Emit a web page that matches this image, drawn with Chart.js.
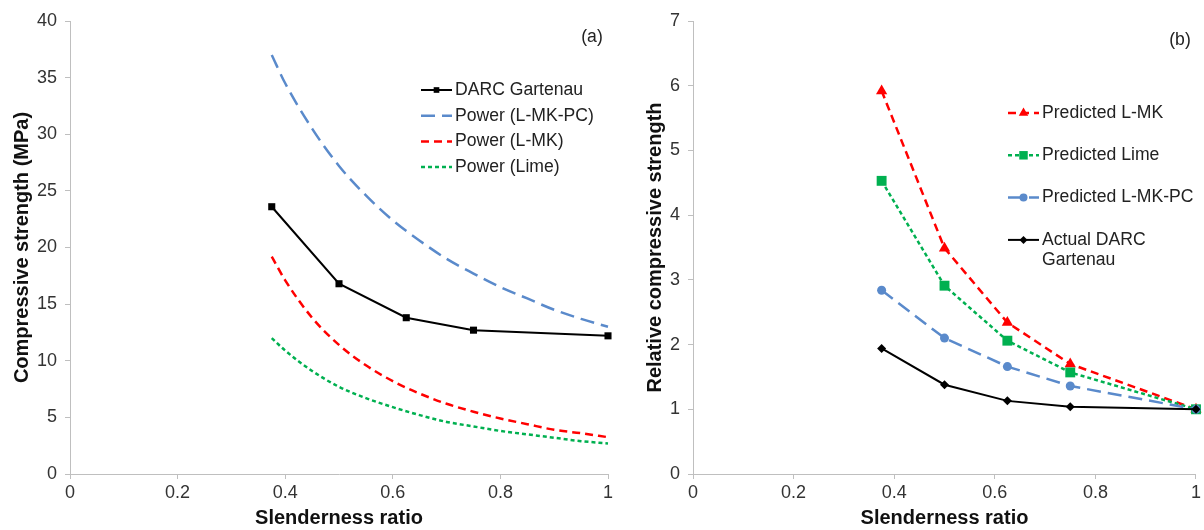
<!DOCTYPE html>
<html>
<head>
<meta charset="utf-8">
<title>Slenderness ratio vs compressive strength</title>
<script src="https://cdn.jsdelivr.net/npm/chart.js@4.4.1/dist/chart.umd.min.js"></script>
<style>
  html, body { margin: 0; padding: 0; background: #fff; }
  #wrap { position: relative; width: 1204px; height: 530px; overflow: hidden; }
  canvas { position: absolute; top: 0; }
  #panelA { left: 0; }
  #panelB { left: 620px; }
</style>
</head>
<body>
<div id="wrap">
  <canvas id="panelA" width="620" height="530"></canvas>
  <canvas id="panelB" width="584" height="530"></canvas>
</div>
<script>
// slenderness ratios of the tested specimens
const slenderness = [0.375, 0.5, 0.625, 0.75, 1.0];

// (a) measured strength, MPa
const darcStrength = [23.6, 16.8, 13.8, 12.7, 12.2];

// (a) power trend lines
const trendRatio = [0.375, 0.4, 0.45, 0.5, 0.55, 0.6, 0.65, 0.7, 0.75, 0.8, 0.85, 0.9, 0.95, 1.0];
const powerLMKPC = [37.0, 34.5, 30.5, 27.2, 24.6, 22.4, 20.6, 19.0, 17.7, 16.5, 15.5, 14.5, 13.7, 13.0];
const powerLMK   = [19.2, 17.1, 13.8, 11.4, 9.6, 8.2, 7.1, 6.2, 5.5, 4.9, 4.4, 3.9, 3.6, 3.25];
const powerLime  = [12.0, 10.9, 9.1, 7.7, 6.7, 5.9, 5.2, 4.6, 4.2, 3.8, 3.5, 3.2, 2.9, 2.7];

// (b) strength relative to slenderness 1
const predLMK    = [5.92, 3.49, 2.34, 1.70, 1.0];
const predLime   = [4.53, 2.91, 2.06, 1.57, 1.0];
const predLMKPC  = [2.84, 2.10, 1.66, 1.36, 1.0];
const actualDARC = [1.94, 1.38, 1.13, 1.04, 1.0];

// tick labels
const ratioTicks = [0, 0.2, 0.4, 0.6, 0.8, 1];
const strengthTicks = [0, 5, 10, 15, 20, 25, 30, 35, 40];
const relativeTicks = [0, 1, 2, 3, 4, 5, 6, 7];

const FONT = '"Liberation Sans", Arial, sans-serif';
const AXIS_GREY = '#bfbfbf';
const BLUE = '#5a8acb';
const RED = '#ff0000';
const GREEN = '#00b050';

function pairs(xs, ys) {
    return xs.map((x, i) => ({ x: x, y: ys[i] }));
}

// legend drawn inside the plot area, plus the panel tag
const panelLegend = {
    id: 'panelLegend',
    afterDraw(chart, args, opts) {
        const ctx = chart.ctx;
        ctx.save();
        ctx.font = opts.fontSize + 'px ' + FONT;
        ctx.textBaseline = 'middle';
        let y = opts.y;
        chart.data.datasets.forEach(ds => {
            // line sample
            ctx.strokeStyle = ds.borderColor;
            ctx.lineWidth = ds.borderWidth;
            ctx.setLineDash(ds.borderDash || []);
            ctx.beginPath();
            ctx.moveTo(opts.x, y);
            ctx.lineTo(opts.x + opts.sampleWidth, y);
            ctx.stroke();
            ctx.setLineDash([]);
            if (ds.pointRadius > 0) {
                ctx.fillStyle = ds.pointBackgroundColor;
                ctx.strokeStyle = ds.pointBorderColor;
                Chart.helpers.drawPoint(ctx, {
                    pointStyle: ds.pointStyle,
                    radius: ds.legendRadius || ds.pointRadius,
                    rotation: 0,
                    borderWidth: 0
                }, opts.x + opts.sampleWidth / 2, y);
            }
            // label, wrapped to the box width
            const words = ds.label.split(' ');
            const lines = [];
            let cur = '';
            words.forEach(w => {
                const test = cur ? cur + ' ' + w : w;
                if (cur && ctx.measureText(test).width > opts.maxWidth) {
                    lines.push(cur);
                    cur = w;
                } else {
                    cur = test;
                }
            });
            lines.push(cur);
            ctx.fillStyle = '#222';
            lines.forEach((line, i) => {
                ctx.fillText(line, opts.x + opts.sampleWidth + opts.textGap, y + i * opts.lineGap);
            });
            y += opts.rowGap;
        });
        if (opts.tag) {
            ctx.textAlign = 'center';
            ctx.fillStyle = '#222';
            ctx.fillText(opts.tag.text, opts.tag.x, opts.tag.y);
        }
        ctx.restore();
    }
};

function axes(yTicks, yMax, yTitle, yWidth, yTitlePad) {
    return {
        x: {
            type: 'linear',
            min: 0,
            max: 1,
            afterBuildTicks: s => { s.ticks = ratioTicks.map(v => ({ value: v })); },
            afterFit: s => { s.height = 56; },
            border: { color: AXIS_GREY, width: 1 },
            grid: { drawOnChartArea: false, drawTicks: true, tickLength: 5, color: AXIS_GREY },
            ticks: {
                color: '#333',
                padding: 3,
                font: { family: FONT, size: 18 },
                callback: v => String(v)
            },
            title: {
                display: true,
                text: 'Slenderness ratio',
                color: '#111',
                padding: { top: 0, bottom: 0 },
                font: { family: FONT, size: 20, weight: 'bold' }
            }
        },
        y: {
            type: 'linear',
            min: 0,
            max: yMax,
            afterBuildTicks: s => { s.ticks = yTicks.map(v => ({ value: v })); },
            afterFit: s => { s.width = yWidth; },
            border: { color: AXIS_GREY, width: 1 },
            grid: { drawOnChartArea: false, drawTicks: true, tickLength: 5, color: AXIS_GREY },
            ticks: {
                color: '#333',
                padding: 8,
                font: { family: FONT, size: 18 },
                callback: v => String(v)
            },
            title: {
                display: true,
                text: yTitle,
                color: '#111',
                padding: { top: yTitlePad, bottom: 0 },
                font: { family: FONT, size: 20, weight: 'bold' }
            }
        }
    };
}

const baseOptions = {
    responsive: false,
    animation: false,
    devicePixelRatio: 1,
    events: []
};

// (a) compressive strength
new Chart(document.getElementById('panelA'), {
    type: 'scatter',
    data: {
        datasets: [
            {
                label: 'DARC Gartenau',
                data: pairs(slenderness, darcStrength),
                showLine: true,
                borderColor: '#000',
                borderWidth: 2,
                pointStyle: 'rect',
                pointRadius: 5,
                legendRadius: 4,
                pointBackgroundColor: '#000',
                pointBorderColor: '#000',
                pointBorderWidth: 0,
                clip: false,
                order: 0
            },
            {
                label: 'Power (L-MK-PC)',
                data: pairs(trendRatio, powerLMKPC),
                showLine: true,
                borderColor: BLUE,
                borderWidth: 2.5,
                borderDash: [14, 7],
                pointRadius: 0,
                cubicInterpolationMode: 'monotone',
                clip: false,
                order: 1
            },
            {
                label: 'Power (L-MK)',
                data: pairs(trendRatio, powerLMK),
                showLine: true,
                borderColor: RED,
                borderWidth: 2.5,
                borderDash: [8, 5],
                pointRadius: 0,
                cubicInterpolationMode: 'monotone',
                clip: false,
                order: 2
            },
            {
                label: 'Power (Lime)',
                data: pairs(trendRatio, powerLime),
                showLine: true,
                borderColor: GREEN,
                borderWidth: 2.5,
                borderDash: [4, 3],
                pointRadius: 0,
                cubicInterpolationMode: 'monotone',
                clip: false,
                order: 3
            }
        ]
    },
    options: Object.assign({}, baseOptions, {
        layout: { padding: { left: 0, top: 21, right: 12, bottom: 0 } },
        scales: axes(strengthTicks, 40, 'Compressive strength (MPa)', 70, 10),
        plugins: {
            legend: { display: false },
            tooltip: { enabled: false },
            panelLegend: {
                x: 421, y: 90, sampleWidth: 31, textGap: 3,
                rowGap: 25.7, lineGap: 20, maxWidth: 170, fontSize: 17.6,
                tag: { text: '(a)', x: 592, y: 37 }
            }
        }
    }),
    plugins: [panelLegend]
});

// (b) relative compressive strength
new Chart(document.getElementById('panelB'), {
    type: 'scatter',
    data: {
        datasets: [
            {
                label: 'Predicted L-MK',
                data: pairs(slenderness, predLMK),
                showLine: true,
                borderColor: RED,
                borderWidth: 2.5,
                borderDash: [8, 5],
                pointStyle: 'triangle',
                pointRadius: 6.5,
                legendRadius: 5.5,
                pointBackgroundColor: RED,
                pointBorderColor: RED,
                pointBorderWidth: 0,
                clip: false,
                order: 3
            },
            {
                label: 'Predicted Lime',
                data: pairs(slenderness, predLime),
                showLine: true,
                borderColor: GREEN,
                borderWidth: 2.5,
                borderDash: [4, 3],
                pointStyle: 'rect',
                pointRadius: 7,
                legendRadius: 6,
                pointBackgroundColor: GREEN,
                pointBorderColor: GREEN,
                pointBorderWidth: 0,
                clip: false,
                order: 2
            },
            {
                label: 'Predicted L-MK-PC',
                data: pairs(slenderness, predLMKPC),
                showLine: true,
                borderColor: BLUE,
                borderWidth: 2.5,
                borderDash: [14, 7],
                pointStyle: 'circle',
                pointRadius: 4.5,
                legendRadius: 4,
                pointBackgroundColor: BLUE,
                pointBorderColor: BLUE,
                pointBorderWidth: 0,
                clip: false,
                order: 1
            },
            {
                label: 'Actual DARC Gartenau',
                data: pairs(slenderness, actualDARC),
                showLine: true,
                borderColor: '#000',
                borderWidth: 2,
                pointStyle: 'rectRot',
                pointRadius: 4.5,
                legendRadius: 4,
                pointBackgroundColor: '#000',
                pointBorderColor: '#000',
                pointBorderWidth: 0,
                clip: false,
                order: 0
            }
        ]
    },
    options: Object.assign({}, baseOptions, {
        layout: { padding: { left: 0, top: 21, right: 6, bottom: 0 } },
        scales: axes(relativeTicks, 7, 'Relative compressive strength', 73, 23),
        plugins: {
            legend: { display: false },
            tooltip: { enabled: false },
            panelLegend: {
                x: 388, y: 113, sampleWidth: 31, textGap: 3,
                rowGap: 42.3, lineGap: 20.5, maxWidth: 158, fontSize: 17.6,
                tag: { text: '(b)', x: 560, y: 40 }
            }
        }
    }),
    plugins: [panelLegend]
});
</script>
</body>
</html>
